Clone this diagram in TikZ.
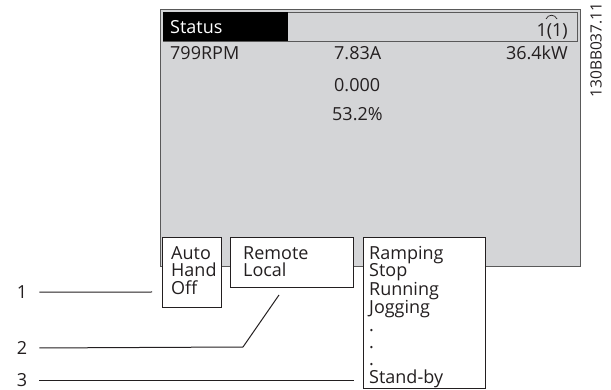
\documentclass[tikz,border=0pt]{standalone}
\usepackage{fontspec}
\setmainfont{Open Sans}
\usetikzlibrary{calc}
\definecolor{panelgray}{RGB}{212,213,215}
\definecolor{inkgray}{RGB}{35,31,32}
\tikzset{
  lcd/.style={fill=panelgray,draw=black!65,line width=0.8pt},
  menubox/.style={draw=inkgray,fill=white,line width=1pt,inner sep=0pt},
  lcdtext/.style={font=\fontsize{18}{17.4}\selectfont,text=inkgray,inner sep=0pt},
  leader/.style={draw=inkgray,line width=1pt},
}
\begin{document}
\begin{tikzpicture}[x=1pt,y=-1pt]
\useasboundingbox (0,0) rectangle (611,390);
\path (160,9) coordinate (lcdNW);
\path (580,266) coordinate (lcdSE);
\path (163,12) coordinate (barNW);
\path (577,41) coordinate (barSE);
\path (288,41) coordinate (barS);
\draw[lcd] (lcdNW) rectangle (lcdSE);
\draw[draw=black!65,line width=0.7pt] (barNW) rectangle (barSE);
\fill[black] (barNW) rectangle (barS);
\node[lcdtext,text=white,anchor=base west] (status) at (170,33.5) {Status};
\node[lcdtext,anchor=base east] (menupage) at (568,37) {1(1)};
\draw[inkgray,line width=0.7pt] (546,19) .. controls (548,14) and (555,14) .. (557,19);
\node[lcdtext,anchor=base west] (speed) at (170,60) {799RPM};
\node[lcdtext,anchor=base west] (current) at (334,60) {7.83A};
\node[lcdtext,anchor=base east] (power) at (568,60) {36.4kW};
\node[lcdtext,anchor=base west] (readout) at (334,92) {0.000};
\node[lcdtext,anchor=base west] (load) at (332,120.5) {53.2\%};
\node[font=\fontsize{15.5}{15.5}\selectfont,text=inkgray,inner sep=0pt,rotate=90] (drawingno) at (596,50) {130BB037.11};
\node[menubox,minimum width=59,minimum height=70,anchor=north west] (modebox) at (162,237) {};
\node[menubox,minimum width=123,minimum height=50,anchor=north west] (sitebox) at (230,237) {};
\node[menubox,minimum width=122,minimum height=151,anchor=north west] (statebox) at (363,237) {};
\node[lcdtext,anchor=base west,align=left] (mode) at (171,294.3) {Auto\\Hand\\Off};
\node[lcdtext,anchor=base west,align=left] (site) at (243,276.9) {Remote\\Local};
\node[lcdtext,anchor=base west,align=left] (state) at (369,383.3) {Ramping\\Stop\\Running\\Jogging\\.\\.\\.\\Stand-by};
\node[lcdtext,anchor=base] (callout1) at (22,298.5) {1};
\node[lcdtext,anchor=base] (callout2) at (22,354.5) {2};
\node[lcdtext,anchor=base] (callout3) at (22,386) {3};
\path (152,292) coordinate (end1);
\path (243,347) coordinate (bend2);
\path (279,295) coordinate (end2);
\path (354,380) coordinate (end3);
\draw[leader] ([xshift=12pt]callout1.east) -- (end1);
\draw[leader] ([xshift=12pt]callout2.east) -- (bend2) -- (end2);
\draw[leader] (callout3.east |- end3) ++(12,0) -- (end3);
\end{tikzpicture}
\end{document}
